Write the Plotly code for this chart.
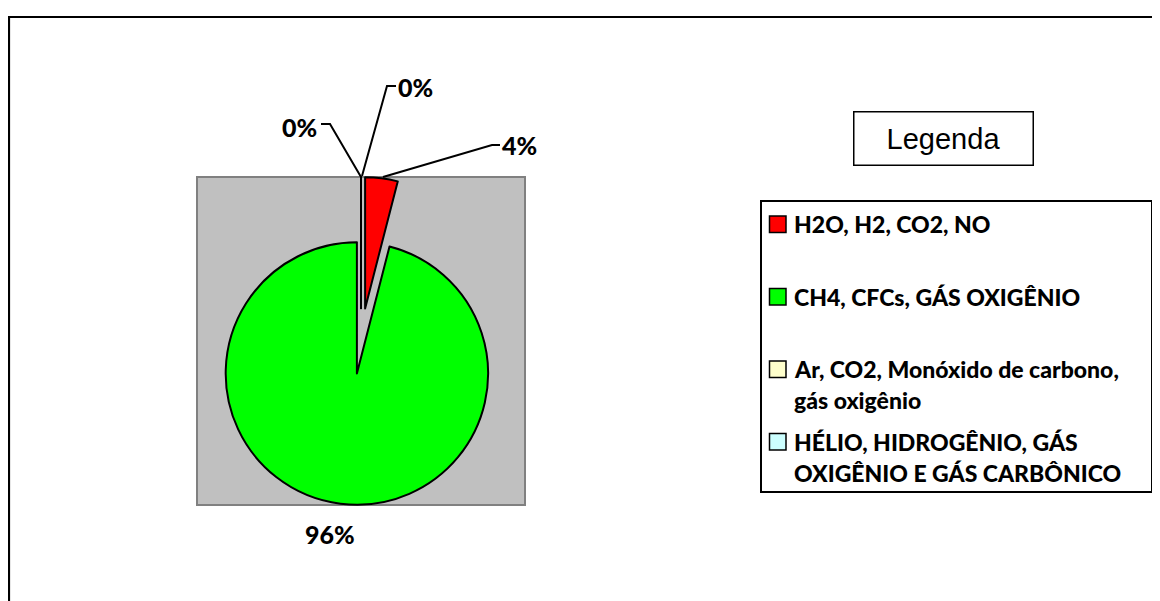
import plotly.graph_objects as go

# ---- data ----
labels = [
    "H2O, H2, CO2, NO",
    "CH4, CFCs, GÁS OXIGÊNIO",
    "Ar, CO2, Monóxido de carbono,<br>gás oxigênio",
    "HÉLIO, HIDROGÊNIO, GÁS<br>OXIGÊNIO E GÁS CARBÔNICO",
]
values = [4, 96, 0, 0]
colors = ["#FF0000", "#00FF00", "#FFFFCC", "#CCFFFF"]
legend_title = "Legenda"

# the page body has an 8px margin; the figure fills the rest of the window
OFF = 8
W, H = 1160 - OFF, 601 - OFF


def X(px):
    return (px - OFF) / W


def Y(py):
    return 1 - (py - OFF) / H


fig = go.Figure()

fig.add_trace(go.Pie(
    labels=labels,
    values=values,
    sort=False,
    direction="clockwise",
    rotation=0,
    pull=[0.25] * len(values),
    marker=dict(colors=colors, line=dict(color="black", width=2)),
    textinfo="none",
    hoverinfo="label+percent",
    showlegend=False,
    domain=dict(x=[X(197), X(525)], y=[Y(505), Y(177)]),
))

shapes = []
# outer chart frame
shapes.append(dict(type="rect", xref="paper", yref="paper",
                   x0=X(9), x1=X(1175), y0=Y(17), y1=Y(620),
                   line=dict(color="black", width=2.2), layer="below"))
# plot area
shapes.append(dict(type="rect", xref="paper", yref="paper",
                   x0=X(197), x1=X(525), y0=Y(505), y1=Y(177),
                   fillcolor="#C0C0C0", line=dict(color="#808080", width=2),
                   layer="below"))

# data labels with leader lines
total = sum(values)
pct = [f"{round(v / total * 100)}%" for v in values]
label_pos = [(519, 145), (330, 534), (299, 127), (415, 87)]
leaders = [
    [(383, 177), (492, 145), (500, 145)],
    None,
    [(361, 177), (330, 124), (321, 124)],
    [(362, 176), (387, 86), (396, 86)],
]
annotations = []
for i, (p, (lx, ly)) in enumerate(zip(pct, label_pos)):
    annotations.append(dict(
        x=X(lx), y=Y(ly), xref="paper", yref="paper", text=p, showarrow=False,
        font=dict(family="Lato", size=25, color="black", weight=900),
        xanchor="center", yanchor="middle"))
    if leaders[i]:
        pts = leaders[i]
        path = "M " + " L ".join(f"{X(a)},{Y(b)}" for a, b in pts)
        shapes.append(dict(type="path", xref="paper", yref="paper", path=path,
                           line=dict(color="black", width=2)))

# legend title box
annotations.append(dict(
    x=X(943), y=Y(138), xref="paper", yref="paper", text=legend_title,
    showarrow=False, font=dict(family="Liberation Sans", size=29, color="black"),
    xanchor="center", yanchor="middle", width=176, height=50,
    bordercolor="black", borderwidth=1.5, bgcolor="white"))

# legend box
shapes.append(dict(type="rect", xref="paper", yref="paper",
                   x0=X(761), x1=X(1152), y0=Y(492), y1=Y(201),
                   line=dict(color="black", width=2), fillcolor="white",
                   layer="below"))
for i, (lab, col) in enumerate(zip(labels, colors)):
    yc = 224 + 72.5 * i
    shapes.append(dict(type="rect", xref="paper", yref="paper",
                       x0=X(769.5), x1=X(786), y0=Y(yc + 8.5), y1=Y(yc - 8),
                       fillcolor=col, line=dict(color="black", width=1.5)))
    for j, line in enumerate(lab.split("<br>")):
        annotations.append(dict(
            x=X(792), y=Y(yc + 31 * j), xref="paper", yref="paper", text=line,
            showarrow=False, xanchor="left", yanchor="middle",
            font=dict(family="Lato", size=23, color="black", weight=900)))

fig.update_layout(
    width=W, height=H,
    margin=dict(l=0, r=0, t=0, b=0),
    paper_bgcolor="white",
    plot_bgcolor="white",
    showlegend=False,
    shapes=shapes,
    annotations=annotations,
)

fig.write_html("out.html")
